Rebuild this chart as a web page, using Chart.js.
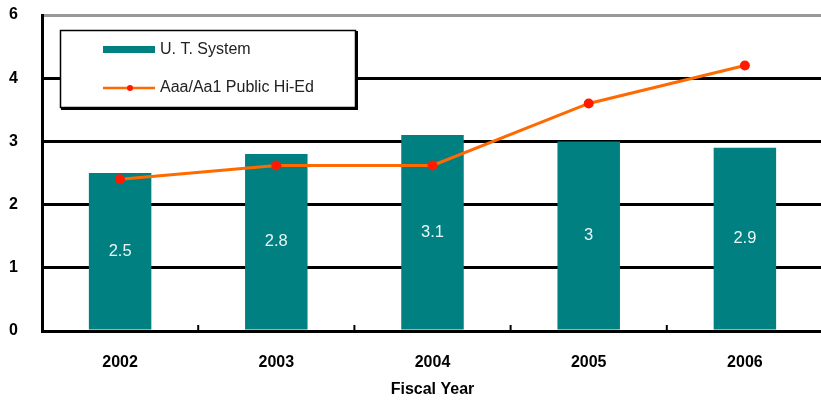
<!DOCTYPE html>
<html>
<head>
<meta charset="utf-8">
<script src="https://cdn.jsdelivr.net/npm/chart.js@4.4.1/dist/chart.umd.min.js"></script>
<style>
  html, body { margin: 0; padding: 0; background: #fff; overflow: hidden; }
  #wrap { width: 830px; height: 401px; }
</style>
</head>
<body>
<div id="wrap"><canvas id="grafico" width="830" height="401"></canvas></div>
<script>
const anos = ['2002', '2003', '2004', '2005', '2006'];
const utSystem = [2.5, 2.8, 3.1, 3.0, 2.9];
const publicHiEd = [2.4, 2.62, 2.62, 3.6, 4.2];
const yTickLabels = ['0', '1', '2', '3', '4', '6'];
const tituloX = 'Fiscal Year';

const corBarra = '#008080';
const corLinha = '#FF6A00';
const corPonto = '#FF1A00';
const fonteEixo = "'Liberation Sans', Arial, sans-serif";

// rótulos brancos no meio das barras
const rotulosBarras = {
    id: 'rotulosBarras',
    afterDatasetsDraw(chart) {
        const ctx = chart.ctx;
        const meta = chart.getDatasetMeta(1);
        ctx.save();
        ctx.fillStyle = '#EAF6F6';
        ctx.font = '16.5px ' + fonteEixo;
        ctx.textAlign = 'center';
        ctx.textBaseline = 'middle';
        meta.data.forEach((bar, i) => {
            const v = chart.data.datasets[1].data[i];
            ctx.fillText(String(v), bar.x, (bar.y + bar.base) / 2);
        });
        ctx.restore();
    }
};

// pequenos traços entre as categorias, para dentro do gráfico
const tracosX = {
    id: 'tracosX',
    afterDatasetsDraw(chart) {
        const x = chart.scales.x;
        const area = chart.chartArea;
        const ctx = chart.ctx;
        ctx.save();
        ctx.strokeStyle = '#000';
        ctx.lineWidth = 2;
        for (let i = 1; i < anos.length; i++) {
            const px = (x.getPixelForTick(i - 1) + x.getPixelForTick(i)) / 2;
            ctx.beginPath();
            ctx.moveTo(px, area.bottom);
            ctx.lineTo(px, area.bottom - 6);
            ctx.stroke();
        }
        ctx.restore();
    }
};

// legenda em caixa dentro do gráfico
const legendaCaixa = {
    id: 'legendaCaixa',
    afterDraw(chart) {
        const ctx = chart.ctx;
        const ds = chart.data.datasets;
        ctx.save();
        ctx.fillStyle = '#fff';
        ctx.fillRect(60, 30, 296, 78);
        ctx.strokeStyle = '#000';
        ctx.lineWidth = 1.5;
        ctx.strokeRect(60.5, 30.5, 295, 77);
        ctx.lineWidth = 3;
        ctx.beginPath();
        ctx.moveTo(61, 108.5);
        ctx.lineTo(356.5, 108.5);
        ctx.lineTo(356.5, 31);
        ctx.stroke();

        ctx.fillStyle = corBarra;
        ctx.fillRect(103, 46, 52, 7);

        ctx.strokeStyle = corLinha;
        ctx.lineWidth = 2.5;
        ctx.beginPath();
        ctx.moveTo(103, 88);
        ctx.lineTo(155, 88);
        ctx.stroke();
        ctx.fillStyle = corPonto;
        ctx.beginPath();
        ctx.arc(130, 88, 3, 0, Math.PI * 2);
        ctx.fill();

        ctx.fillStyle = '#222';
        ctx.font = '16px ' + fonteEixo;
        ctx.textBaseline = 'middle';
        ctx.textAlign = 'left';
        ctx.fillText(ds[1].label, 160, 50);
        ctx.fillText(ds[0].label, 160, 88);
        ctx.restore();
    }
};

const ctx = document.getElementById('grafico').getContext('2d');
const grafico = new Chart(ctx, {
    type: 'bar',
    data: {
        labels: anos,
        datasets: [
            {
                type: 'line',
                label: 'Aaa/Aa1 Public Hi-Ed',
                data: publicHiEd,
                borderColor: corLinha,
                borderWidth: 3,
                pointBackgroundColor: corPonto,
                pointBorderColor: corPonto,
                pointRadius: 3.5,
                tension: 0,
                fill: false,
                order: 0
            },
            {
                label: 'U. T. System',
                data: utSystem,
                backgroundColor: corBarra,
                borderWidth: 0,
                barPercentage: 0.4,
                categoryPercentage: 1,
                order: 1
            }
        ]
    },
    options: {
        responsive: false,
        animation: false,
        layout: { padding: { left: 0, right: 3, top: 15, bottom: 0 } },
        plugins: {
            legend: { display: false },
            tooltip: { enabled: false }
        },
        scales: {
            x: {
                offset: true,
                afterFit(scale) {
                    scale.height = 70;
                    scale.paddingLeft = 0;
                    scale.paddingRight = 0;
                },
                grid: { display: false, drawTicks: false },
                border: { display: true, color: '#000', width: 3 },
                ticks: {
                    color: '#000',
                    padding: 22,
                    font: { family: fonteEixo, size: 16, weight: 'bold' }
                },
                title: {
                    display: true,
                    text: tituloX,
                    color: '#000',
                    padding: { top: 6, bottom: 2 },
                    font: { family: fonteEixo, size: 16, weight: 'bold' }
                }
            },
            y: {
                min: 0,
                max: 5,
                afterFit(scale) {
                    scale.width = 42;
                    scale.paddingTop = 0;
                    scale.paddingBottom = 0;
                },
                grid: {
                    drawTicks: false,
                    lineWidth: 3,
                    color: (c) => (c.tick && c.tick.value === 5 ? '#999' : '#000')
                },
                border: { display: true, color: '#000', width: 3 },
                ticks: {
                    stepSize: 1,
                    padding: 24,
                    color: '#000',
                    font: { family: fonteEixo, size: 16, weight: 'bold' },
                    callback: (v, i) => yTickLabels[i]
                }
            }
        }
    },
    plugins: [rotulosBarras, tracosX, legendaCaixa]
});
</script>
</body>
</html>
